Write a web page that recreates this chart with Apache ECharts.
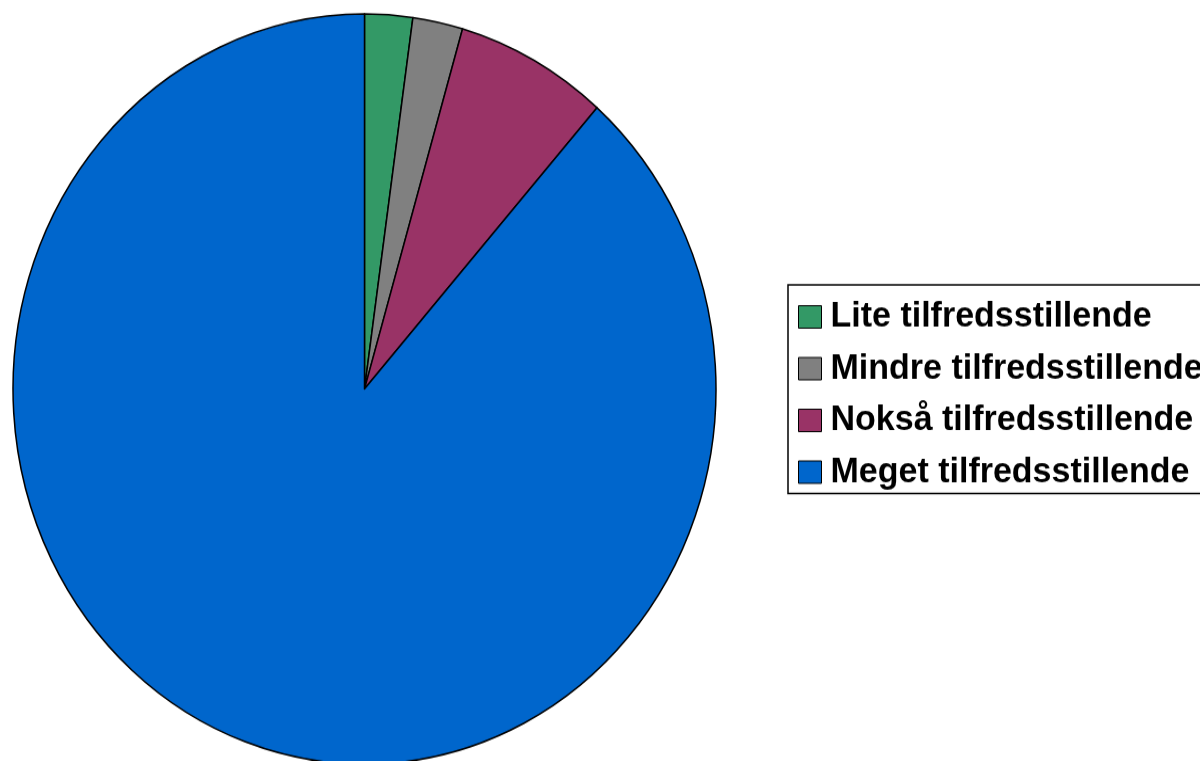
<!DOCTYPE html>
<html>
<head>
<meta charset="utf-8">
<script src="https://cdn.jsdelivr.net/npm/echarts@6/dist/echarts.min.js"></script>
<style>
  html { overflow: hidden; }
  html, body { margin: 0; padding: 0; background: #fff; }
  body { width: 1200px; height: 761px; }
  /* the reference pie is slightly taller than wide, so stretch the chart vertically */
  #chart_pie { width: 1200px; height: 713px; transform: scaleY(1.067); transform-origin: 0 0; }
</style>
</head>
<body>
<div id="chart_pie"></div>
<script>
var categories = ['Lite tilfredsstillende', 'Mindre tilfredsstillende', 'Nokså tilfredsstillende', 'Meget tilfredsstillende'];
var values = [2.2, 2.3, 7.0, 88.5];
var colors = ['#339966', '#808080', '#993366', '#0066CC'];

var chart_pie = echarts.init(document.getElementById('chart_pie'));

var data = [];
for (var i = 0; i < categories.length; i++) {
    data.push({
        value: values[i],
        name: categories[i],
        itemStyle: { color: colors[i] }
    });
}

var chart_pie_option = {
    animation: false,
    legend: {
        orient: 'vertical',
        left: 788,
        top: 267,
        padding: [13, 10, 3, 10],
        itemWidth: 23,
        itemHeight: 21,
        itemGap: 14.5,
        icon: 'rect',
        borderColor: '#000',
        borderWidth: 1.5,
        itemStyle: { borderColor: '#000', borderWidth: 1 },
        textStyle: {
            color: '#000',
            fontFamily: 'Liberation Sans, Arial, sans-serif',
            fontWeight: 'bold',
            fontSize: 34,
            lineHeight: 34,
            padding: [0, 0, 0, 4]
        },
        data: categories
    },
    series: [{
        type: 'pie',
        center: [364.5, 364.6],
        radius: 351.5,
        startAngle: 90,
        clockwise: true,
        label: { show: false },
        labelLine: { show: false },
        emphasis: { disabled: true },
        itemStyle: { borderColor: '#000', borderWidth: 1.5 },
        data: data
    }]
};

chart_pie.setOption(chart_pie_option);
</script>
</body>
</html>
